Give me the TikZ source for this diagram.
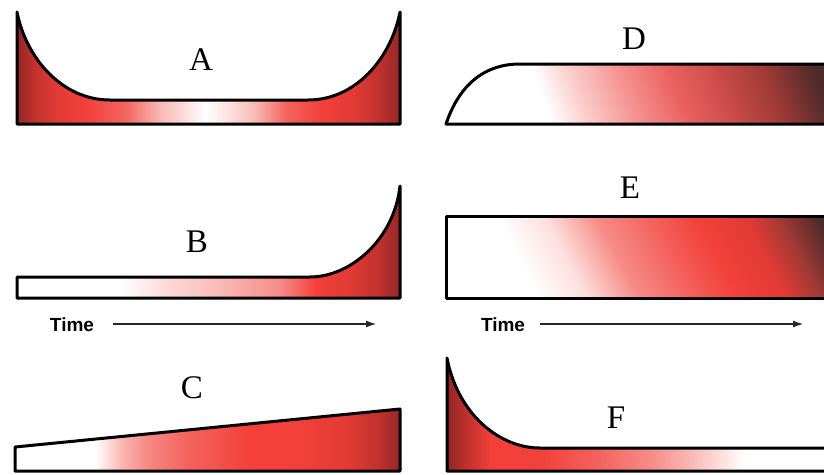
\documentclass[tikz,border=0pt]{standalone}
\usepackage{fontspec}
\setmainfont{Liberation Serif}
\newfontfamily\timefont{Liberation Sans}
\usetikzlibrary{arrows.meta}
\definecolor{cW}{RGB}{255,255,255}
\definecolor{cP1}{RGB}{252,222,220}
\definecolor{cP2}{RGB}{249,185,180}
\definecolor{cP3}{RGB}{246,140,135}
\definecolor{cP4}{RGB}{244,100,95}
\definecolor{cR}{RGB}{243,64,58}
\definecolor{cR2}{RGB}{225,58,52}
\definecolor{cD1}{RGB}{190,48,44}
\definecolor{cD2}{RGB}{145,40,38}
\definecolor{cQ1}{RGB}{250,210,208}
\definecolor{cQ3}{RGB}{245,150,148}
\definecolor{cSa}{RGB}{235,100,98}
\definecolor{cSb}{RGB}{203,76,72}
\definecolor{cSc}{RGB}{158,58,54}
\definecolor{cBr}{RGB}{75,42,42}
\newcommand\gradsegs[1]{\foreach \xa/\xb/\ca/\cb in {#1} {\shade[left color=\ca,right color=\cb] (\xa,-10) rectangle (\xb+0.7,490);}}
\tikzset{
  outline/.style={draw=black,line width=3pt,line join=round,line cap=round},
  lab/.style={inner sep=0pt,font=\fontsize{33}{33}\selectfont},
  timelab/.style={inner sep=0pt,font=\timefont\bfseries\fontsize{19}{19}\selectfont},
  timearrow/.style={draw=black!85,line width=2pt,-{Latex[length=11pt,width=7pt]}}
}
\begin{document}
\begin{tikzpicture}[x=1pt,y=-1pt]
\path[use as bounding box,fill=white] (0,0) rectangle (824,474);
\clip (0,0) rectangle (824,474);

% A
\draw[outline,path picture={\gradsegs{0/17/cD2/cD2,17/32/cD2/cD1,32/55/cD1/cR2,55/85/cR2/cR,85/125/cR/cP4,125/160/cP4/cP2,160/185/cP2/cP1,185/205/cP1/cW,205/230/cW/cP1,230/255/cP1/cP2,255/285/cP2/cP4,285/320/cP4/cR,320/355/cR/cR2,355/380/cR2/cD1,380/401/cD1/cD2,401/430/cD2/cD2}}]
  (17,12) -- (17,124) -- (400,124) -- (400,12) .. controls (391,58) and (356,100) .. (308,100) -- (110,100) .. controls (62,100) and (26,58) .. (17,12) -- cycle;
\node[lab] (la) at (201,60) {A};

% B
\draw[outline,path picture={\gradsegs{0/120/cW/cW,120/160/cW/cP1,160/220/cP1/cP2,220/280/cP2/cP3,280/315/cP3/cR,315/350/cR/cR2,350/380/cR2/cD1,380/401/cD1/cD2,401/430/cD2/cD2}}]
  (17,277) -- (17,298) -- (400,298) -- (400,186) .. controls (394,240) and (350,277) .. (310,277) -- cycle;
\node[lab] (lb) at (197,242) {B};
\node[timelab] (tb) at (72,325) {Time};
\coordinate (bs) at (113,324);
\coordinate (be) at (377,324);
\draw[timearrow] (bs) -- (be);

% C
\draw[outline,path picture={\gradsegs{0/95/cW/cW,95/120/cW/cP2,120/145/cP2/cP3,145/185/cP3/cP4,185/250/cP4/cR,250/300/cR/cR,300/350/cR/cR2,350/380/cR2/cD1,380/401/cD1/cD2,401/430/cD2/cD2}}]
  (15,447) -- (400,409) -- (400,471) -- (15,471) -- cycle;
\node[lab] (lc) at (192,388) {C};

% D
\draw[outline,path picture={\begin{scope}[transform canvas={xslant=-0.37}]\gradsegs{200/506/cW/cW,506/539/cW/cQ1,539/589/cQ1/cQ3,589/639/cQ3/cSa,639/689/cSa/cSb,689/739/cSb/cSc,739/789/cSc/cBr,789/950/cBr/cBr}\end{scope}}]
  (446,124) -- (834,124) -- (834,64) -- (520,64) .. controls (475,64) and (455,97) .. (446,124) -- cycle;
\node[lab] (ld) at (634,39) {D};

% E
\draw[outline,path picture={\begin{scope}[transform canvas={xslant=-0.52}]\gradsegs{100/383/cW/cW,383/433/cW/cP1,433/483/cP1/cP3,483/533/cP3/cP4,533/583/cP4/cR,583/633/cR/cR2,633/667/cR2/cSc,667/705/cSc/cBr,705/950/cBr/cBr}\end{scope}}]
  (446,216) rectangle (834,298);
\node[lab] (le) at (630,188) {E};
\node[timelab] (te) at (503,325) {Time};
\coordinate (es) at (540,324);
\coordinate (ee) at (804,324);
\draw[timearrow] (es) -- (ee);

% F
\draw[outline,path picture={\gradsegs{400/448/cD2/cD2,448/465/cD2/cD1,465/490/cD1/cR,490/540/cR/cR,540/600/cR/cP4,600/650/cP4/cP3,650/690/cP3/cP2,690/720/cP2/cP1,720/745/cP1/cW,745/900/cW/cW}}]
  (447,358) -- (447,471) -- (834,471) -- (834,448) -- (540,448) .. controls (500,448) and (458,415) .. (447,358) -- cycle;
\node[lab] (lf) at (616,418) {F};
\end{tikzpicture}
\end{document}
